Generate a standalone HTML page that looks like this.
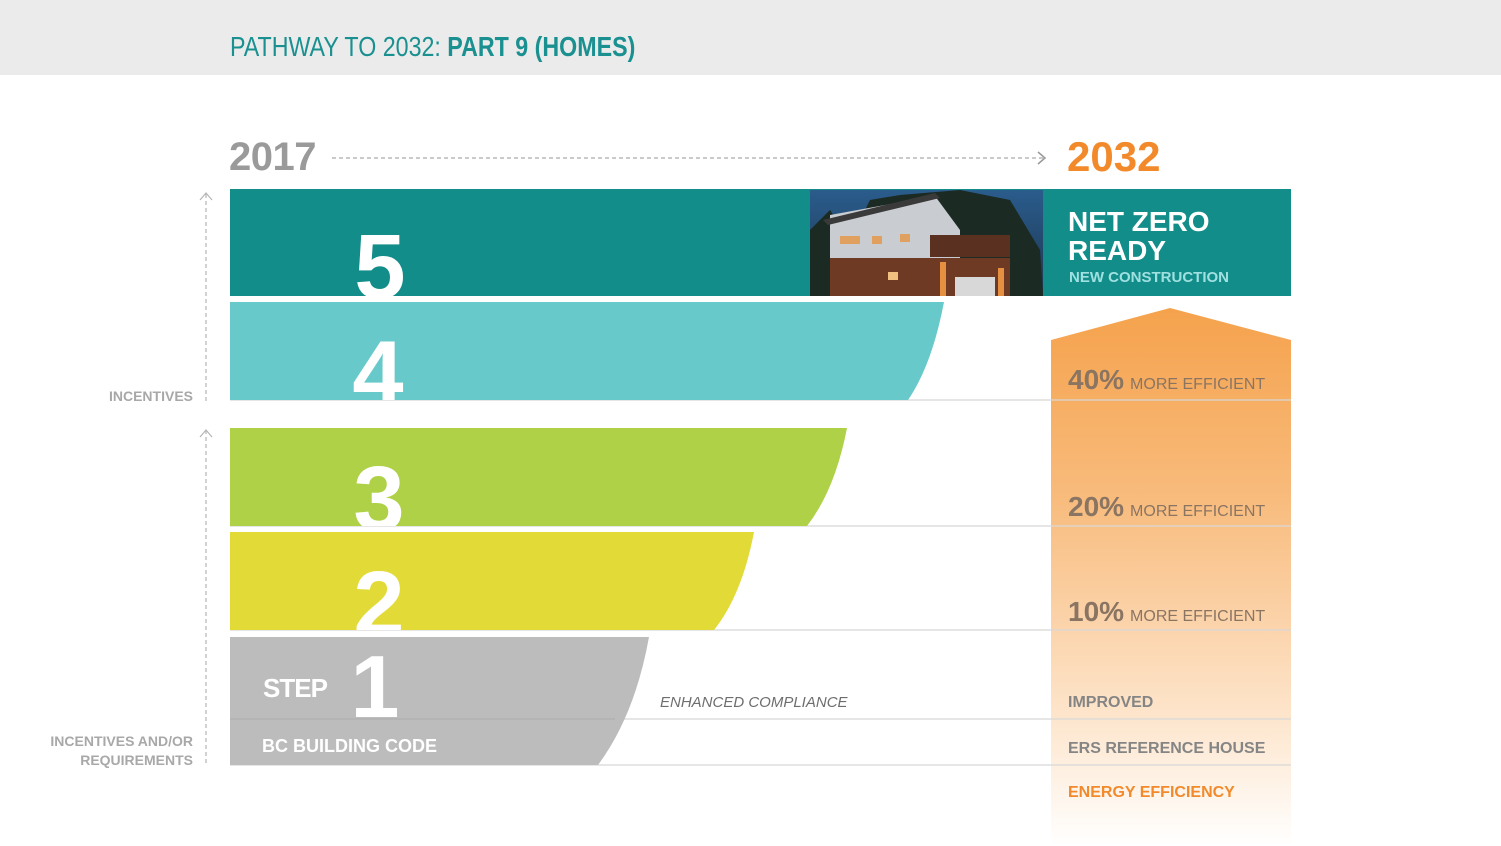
<!DOCTYPE html>
<html><head><meta charset="utf-8"><style>
html,body{margin:0;padding:0;background:#fff;width:1501px;height:846px;overflow:hidden}
svg{display:block;font-family:"Liberation Sans",sans-serif}
</style></head><body>
<svg width="1501" height="846" viewBox="0 0 1501 846" xmlns="http://www.w3.org/2000/svg">
<defs>
<linearGradient id="og" x1="0" y1="0" x2="0" y2="1">
<stop offset="0" stop-color="#f5a24c"/>
<stop offset="0.35" stop-color="#f8bb7c"/>
<stop offset="0.75" stop-color="#fde4ca"/>
<stop offset="1" stop-color="#ffffff"/>
</linearGradient>
<linearGradient id="sky" x1="0" y1="0" x2="0" y2="1">
<stop offset="0" stop-color="#2a5c8c"/><stop offset="1" stop-color="#1d3550"/>
</linearGradient>
<clipPath id="c5"><rect x="230" y="189" width="580" height="107"/></clipPath>
<clipPath id="c4"><path d="M230 302 H944 Q932 365 908 400 H230Z"/></clipPath>
<clipPath id="c3"><path d="M230 428 H847 Q835 490 807 526 H230Z"/></clipPath>
<clipPath id="c2"><path d="M230 532 H754 Q742 595 714 630 H230Z"/></clipPath>
<clipPath id="c1"><path d="M230 637 H649 Q635 715 598 765 H230Z"/></clipPath>
</defs>
<rect x="0" y="0" width="1501" height="75" fill="#ebebeb"/>
<text x="230" y="56" font-size="28" fill="#1a9090" transform="translate(230 0) scale(0.83 1) translate(-230 0)">PATHWAY TO 2032: <tspan font-weight="bold">PART 9 (HOMES)</tspan></text>

<text x="229" y="170" font-size="40" font-weight="bold" fill="#9a9a9a" letter-spacing="-0.5">2017</text>
<line x1="332" y1="158" x2="1044" y2="158" stroke="#aaa" stroke-width="1.3" stroke-dasharray="4 3"/>
<path d="M1038 152 L1045 158 L1038 164" fill="none" stroke="#999" stroke-width="1.5"/>
<text x="1067" y="171" font-size="42" font-weight="bold" fill="#f28a2c" letter-spacing="0">2032</text>

<path d="M1051 340 L1170 308 L1291 340 L1291 846 L1051 846Z" fill="url(#og)"/>

<g stroke="#d8d8d8" stroke-width="1.2">
<line x1="230" y1="400" x2="1291" y2="400"/>
<line x1="230" y1="526" x2="1291" y2="526"/>
<line x1="230" y1="630" x2="1291" y2="630"/>
<line x1="230" y1="719" x2="1291" y2="719"/>
<line x1="230" y1="765" x2="1291" y2="765"/>
</g>

<rect x="230" y="189" width="1061" height="107" fill="#138d8a"/>
<g clip-path="url(#c5)"><text x="380" y="298" font-size="92" font-weight="bold" fill="#fff" text-anchor="middle">5</text></g>
<rect x="810" y="190" width="233" height="106" fill="url(#sky)"/>
<path d="M810 296 L810 230 L830 210 L850 240 L870 200 L900 195 L960 190 L1010 200 L1040 250 L1043 296Z" fill="#1b2a22"/>
<path d="M830 215 L935 196 L960 230 L960 260 L830 262Z" fill="#c9ccd0"/>
<path d="M823 220 L935 193 L940 198 L828 225Z" fill="#3a3a3a"/>
<rect x="830" y="258" width="180" height="38" fill="#6e3a24"/>
<rect x="930" y="235" width="80" height="22" fill="#5a3020"/>
<rect x="955" y="277" width="40" height="19" fill="#d8d8d8"/>
<rect x="840" y="236" width="20" height="8" fill="#e0a060"/>
<rect x="872" y="236" width="10" height="8" fill="#e0a060"/>
<rect x="900" y="234" width="10" height="8" fill="#e0a060"/>
<rect x="888" y="272" width="10" height="8" fill="#f0c080"/>
<rect x="940" y="262" width="6" height="34" fill="#e59040"/>
<rect x="998" y="268" width="6" height="28" fill="#e59040"/>
<text x="1068" y="231" font-size="28" font-weight="bold" fill="#fff">NET ZERO</text>
<text x="1068" y="260" font-size="28" font-weight="bold" fill="#fff">READY</text>
<text x="1069" y="282" font-size="15" font-weight="bold" fill="#9fe0e0">NEW CONSTRUCTION</text>

<path d="M230 302 H944 Q932 365 908 400 H230Z" fill="#68c9ca"/>
<g clip-path="url(#c4)"><text x="378" y="405" font-size="92" font-weight="bold" fill="#fff" text-anchor="middle">4</text></g>
<path d="M230 428 H847 Q835 490 807 526 H230Z" fill="#afd147"/>
<g clip-path="url(#c3)"><text x="379" y="530" font-size="92" font-weight="bold" fill="#fff" text-anchor="middle">3</text></g>
<path d="M230 532 H754 Q742 595 714 630 H230Z" fill="#e2da36"/>
<g clip-path="url(#c2)"><text x="379" y="635" font-size="92" font-weight="bold" fill="#fff" text-anchor="middle">2</text></g>
<path d="M230 637 H649 Q635 715 598 765 H230Z" fill="#bcbcbd"/>
<line x1="230" y1="719" x2="615" y2="719" stroke="#adadad" stroke-width="1"/>
<text x="263" y="697" font-size="26" font-weight="bold" fill="#fff" letter-spacing="-1">STEP</text>
<text x="375" y="717" font-size="88" font-weight="bold" fill="#fff" text-anchor="middle">1</text>
<text x="262" y="752" font-size="18" font-weight="bold" fill="#fff">BC BUILDING CODE</text>
<text x="660" y="707" font-size="15" font-style="italic" fill="#6e6e6e">ENHANCED COMPLIANCE</text>

<g fill="#8a7462" font-weight="bold">
<text x="1068" y="389" font-size="28">40%<tspan font-size="16" font-weight="normal" dx="6">MORE EFFICIENT</tspan></text>
<text x="1068" y="516" font-size="28">20%<tspan font-size="16" font-weight="normal" dx="6">MORE EFFICIENT</tspan></text>
<text x="1068" y="621" font-size="28">10%<tspan font-size="16" font-weight="normal" dx="6">MORE EFFICIENT</tspan></text>
</g>
<text x="1068" y="707" font-size="16" font-weight="bold" fill="#858585">IMPROVED</text>
<text x="1068" y="753" font-size="16" font-weight="bold" fill="#858585">ERS REFERENCE HOUSE</text>
<text x="1068" y="797" font-size="16" font-weight="bold" fill="#f28a2c">ENERGY EFFICIENCY</text>

<g stroke="#b5b5b5" stroke-width="1.2" fill="none">
<line x1="206" y1="194" x2="206" y2="402" stroke-dasharray="4 3"/>
<path d="M200 200 L206 193 L212 200"/>
<line x1="206" y1="430" x2="206" y2="766" stroke-dasharray="4 3"/>
<path d="M200 437 L206 430 L212 437"/>
</g>
<g fill="#a8a8a8" font-size="14" font-weight="bold" text-anchor="end">
<text x="193" y="401">INCENTIVES</text>
<text x="193" y="746">INCENTIVES AND/OR</text>
<text x="193" y="765">REQUIREMENTS</text>
</g>
</svg>
</body></html>
